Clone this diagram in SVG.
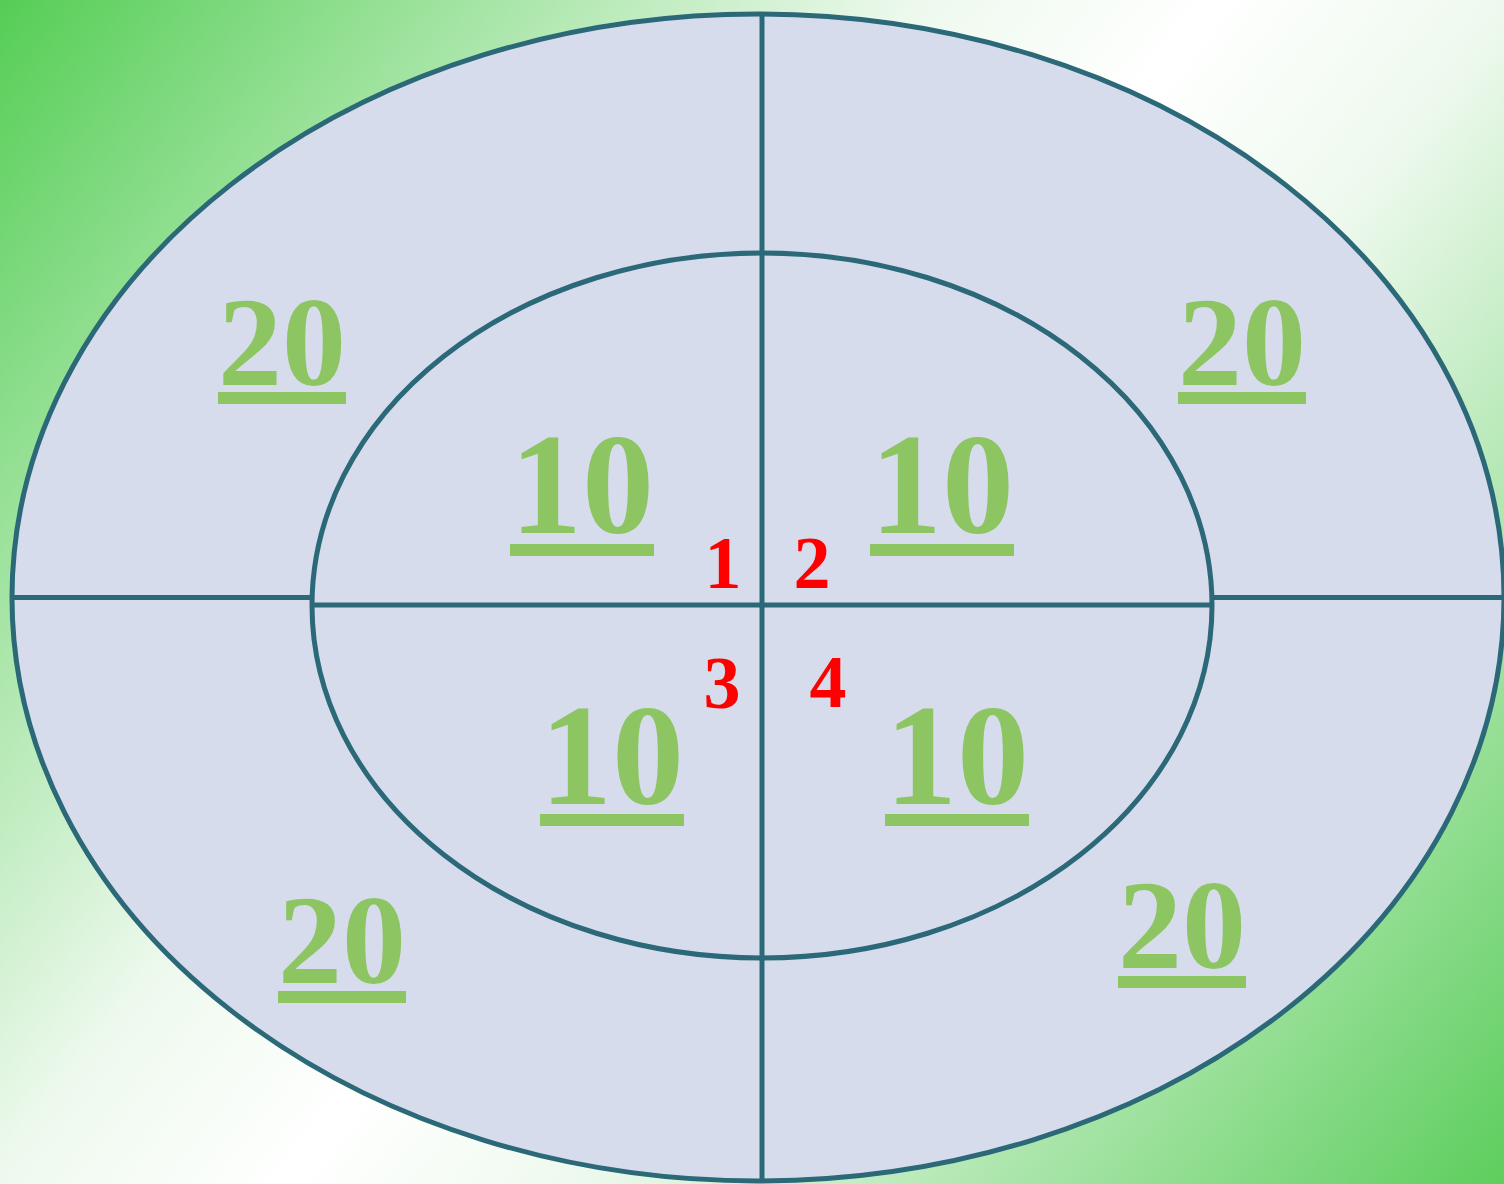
<svg xmlns="http://www.w3.org/2000/svg" width="1504" height="1184" viewBox="0 0 1504 1184">
<defs>
<linearGradient id="bg" x1="0" y1="0" x2="1504" y2="1184" gradientUnits="userSpaceOnUse">
<stop offset="0" stop-color="#55CE55"/>
<stop offset="0.38" stop-color="#EEF9EE"/>
<stop offset="0.5" stop-color="#FFFFFF"/>
<stop offset="0.62" stop-color="#EEF9EE"/>
<stop offset="1" stop-color="#5DCE5D"/>
</linearGradient>
<style>
.ring{fill:#D6DCEB;stroke:#2B6878;stroke-width:5}
.ln{stroke:#2B6878;stroke-width:5;fill:none}
.g{font-family:"Liberation Serif","Times New Roman",serif;font-weight:bold;fill:#8DC563;text-anchor:middle}
.ul{fill:#8DC563}
.r{font-family:"Liberation Serif","Times New Roman",serif;font-weight:bold;fill:#FF0000;font-size:74px;text-anchor:middle}
</style>
</defs>
<rect width="1504" height="1184" fill="url(#bg)"/>
<g id="outer-ring"><ellipse class="ring" cx="758" cy="597.5" rx="746" ry="583.5"/></g>
<g id="inner-ring"><ellipse class="ring" cx="762" cy="605.5" rx="450" ry="352.5"/></g>
<g id="connectors">
<line class="ln" x1="762" y1="14" x2="762" y2="1181"/>
<line class="ln" x1="12" y1="597.5" x2="312" y2="597.5"/>
<line class="ln" x1="1212" y1="597.5" x2="1504" y2="597.5"/>
<line class="ln" x1="312" y1="605" x2="1212" y2="605"/>
</g>
<g id="outer-tl"><text class="g" x="282" y="385" font-size="128">20</text><rect class="ul" x="218" y="392" width="128" height="12"/></g>
<g id="outer-tr"><text class="g" x="1242" y="385" font-size="128">20</text><rect class="ul" x="1178" y="392" width="128" height="12"/></g>
<g id="outer-bl"><text class="g" x="342" y="983" font-size="128">20</text><rect class="ul" x="278" y="991" width="128" height="12"/></g>
<g id="outer-br"><text class="g" x="1182" y="968" font-size="128">20</text><rect class="ul" x="1118" y="976" width="128" height="12"/></g>
<g id="inner-tl"><text class="g" x="582" y="533" font-size="144">10</text><rect class="ul" x="510" y="544" width="144" height="12"/></g>
<g id="inner-tr"><text class="g" x="942" y="533" font-size="144">10</text><rect class="ul" x="870" y="544" width="144" height="12"/></g>
<g id="inner-bl"><text class="g" x="612" y="804" font-size="144">10</text><rect class="ul" x="540" y="814" width="144" height="12"/></g>
<g id="inner-br"><text class="g" x="957" y="804" font-size="144">10</text><rect class="ul" x="885" y="814" width="144" height="12"/></g>
<g id="label-1"><text class="r" x="723" y="588">1</text></g>
<g id="label-2"><text class="r" x="812" y="588">2</text></g>
<g id="label-3"><text class="r" x="722" y="708">3</text></g>
<g id="label-4"><text class="r" x="828" y="707">4</text></g>
</svg>
